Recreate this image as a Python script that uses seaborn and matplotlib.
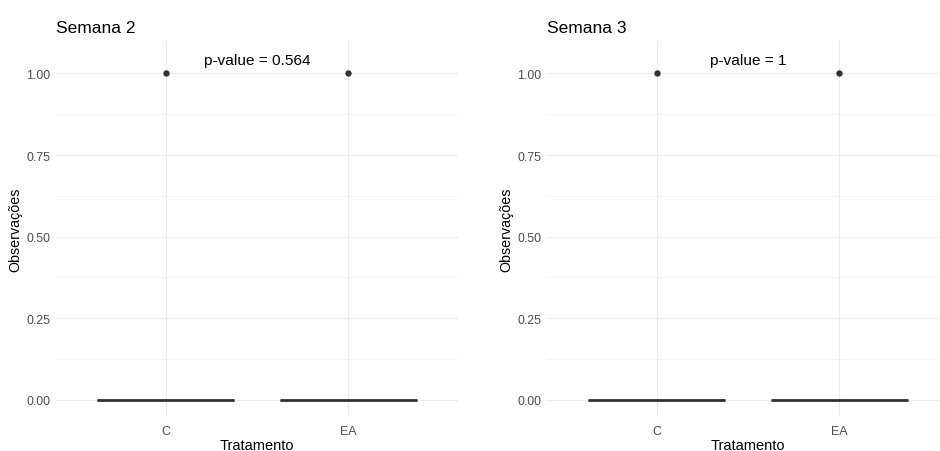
import matplotlib
matplotlib.use("Agg")
import matplotlib.pyplot as plt
import seaborn as sns
import pandas as pd

sns.set_theme(style="white")
plt.rcParams["font.family"] = ["Liberation Sans", "DejaVu Sans"]

# Observations per treatment group (0 = absent, 1 = present)
groups = ["C", "EA"]
semana2_c = [0, 0, 0, 0, 0, 0, 0, 0, 0, 1]
semana2_ea = [0, 0, 0, 0, 0, 0, 0, 0, 0, 1]
semana3_c = [0, 0, 0, 0, 0, 0, 0, 0, 0, 1]
semana3_ea = [0, 0, 0, 0, 0, 0, 0, 0, 0, 1]

titles = ["Semana 2", "Semana 3"]
p_labels = ["p-value = 0.564", "p-value = 1"]
y_ticks = [0.0, 0.25, 0.5, 0.75, 1.0]
y_tick_labels = ["0.00", "0.25", "0.50", "0.75", "1.00"]
label_y = 1.04


def make_frame(c_vals, ea_vals):
    return pd.DataFrame({
        "Tratamento": [groups[0]] * len(c_vals) + [groups[1]] * len(ea_vals),
        "Observações": list(c_vals) + list(ea_vals),
    })


frames = [make_frame(semana2_c, semana2_ea), make_frame(semana3_c, semana3_ea)]

W, H = 940, 452
fig = plt.figure(figsize=(W / 100, H / 100), dpi=100)
fig.patch.set_facecolor("white")

panel_left = [56.1, 547.1]
panel_w = 401.8
panel_top, panel_bottom = 41, 418
panel_h = panel_bottom - panel_top

grid_col = "#EBEBEB"
ink = "#333333"

for i, df in enumerate(frames):
    ax = fig.add_axes([panel_left[i] / W, (H - panel_bottom) / H,
                       panel_w / W, panel_h / H])
    ax.set_facecolor("white")

    # minor horizontal grid
    for yv in [0.125, 0.375, 0.625, 0.875]:
        ax.axhline(yv, color="#F3F3F3", lw=0.55, zorder=0)
    for yv in y_ticks:
        ax.axhline(yv, color=grid_col, lw=0.8, zorder=0)
    for xv in range(len(groups)):
        ax.axvline(xv, color=grid_col, lw=0.8, zorder=0)

    sns.boxplot(data=df, x="Tratamento", y="Observações", order=groups, ax=ax,
                width=0.75, color="white", linecolor=ink, linewidth=1.0,
                showcaps=False,
                medianprops=dict(color=ink, linewidth=2.0),
                flierprops=dict(marker="o", markersize=3.6,
                                markerfacecolor=ink, markeredgecolor=ink))

    ax.text(0.5, label_y, p_labels[i], ha="center", va="center",
            fontsize=11.1, color="black")

    ax.set_xlim(-0.6, 1.6)
    ax.set_ylim(-0.0525, 1.1025)
    ax.set_yticks(y_ticks)
    ax.set_yticklabels(y_tick_labels)
    ax.tick_params(axis="both", length=0, labelsize=8.9, labelcolor="#4D4D4D")
    ax.tick_params(axis="y", pad=4.0)
    ax.tick_params(axis="x", pad=5.5)
    for s in ax.spines.values():
        s.set_visible(False)
    ax.grid(False)

    ax.set_xlabel("Tratamento", fontsize=10.5, color="black")
    ax.xaxis.label.set_va("baseline")
    ax.xaxis.set_label_coords(0.5, (panel_bottom - 450.5) / panel_h)
    ax.set_ylabel("Observações", fontsize=10.3, color="black", labelpad=3)
    ax.set_title(titles[i], loc="left", fontsize=12.5, color="black", pad=6)

fig.savefig("out.png", dpi=100, facecolor="white")
